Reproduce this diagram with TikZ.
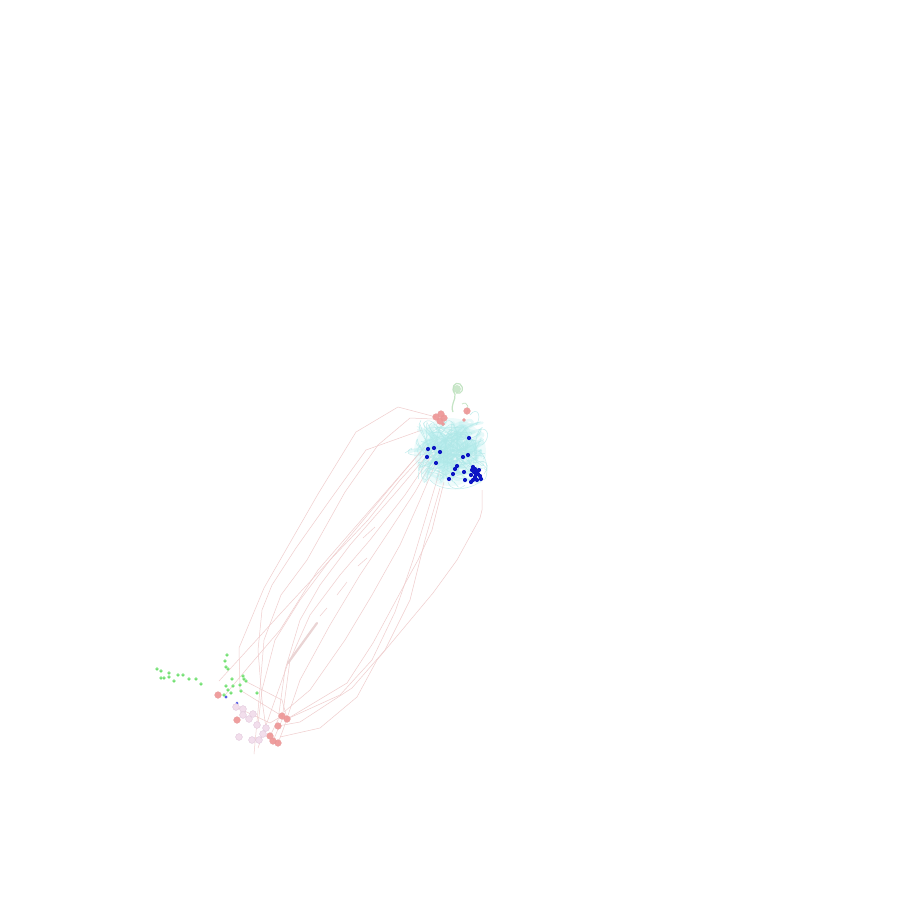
\documentclass[tikz,border=0pt]{standalone}
\definecolor{pinkc}{RGB}{240,205,205}
\definecolor{thickc}{RGB}{234,212,212}
\definecolor{cyanc}{RGB}{175,232,232}
\definecolor{cyanw}{RGB}{185,238,238}
\definecolor{cyanb}{RGB}{165,234,238}
\definecolor{redf}{RGB}{238,148,148}
\definecolor{redd}{RGB}{230,160,160}
\definecolor{palef}{RGB}{242,222,236}
\definecolor{paled}{RGB}{225,200,220}
\definecolor{greenf}{RGB}{95,218,95}
\definecolor{greend}{RGB}{175,240,175}
\definecolor{bluec}{RGB}{12,22,195}
\definecolor{greenr}{RGB}{190,226,190}
\definecolor{lblue}{RGB}{85,95,230}
\begin{document}
\begin{tikzpicture}[x=1pt,y=-1pt,
  pinkln/.style={draw=pinkc,line width=0.5pt,line join=round},
  thickln/.style={draw=thickc,line width=2.2pt,line cap=round},
  cyanrib/.style={draw=cyanc,line width=0.5pt,opacity=0.75},
  cyanwide/.style={draw=cyanw,line width=2.6pt,opacity=0.35,line cap=round},
  cyanball/.style={fill=cyanb,opacity=0.4},
  redball/.style={fill=redf,draw=redd,line width=0.3pt,opacity=0.9},
  paleball/.style={fill=palef,draw=paled,line width=0.4pt},
  greendot/.style={fill=greenf,draw=greend,line width=0.5pt},
  bluedot/.style={fill=bluec},
  greenrib/.style={draw=greenr,line width=1.2pt,opacity=0.9}
]
\useasboundingbox[fill=white] (0,0) rectangle (900,900);

% ---------- pink connecting lines ----------
\draw[pinkln] (436,417) -- (398,407) -- (356,432) -- (318,494) -- (264,588) -- (239,648) -- (240,690) -- (282,716);
\draw[pinkln] (433,419) -- (410,418) -- (378,445) -- (345,492) -- (307,560) -- (281,595) -- (264,640) -- (259,700) -- (254,754);
\draw[pinkln] (428,450) -- (400,480) -- (368,520) -- (330,560) -- (281,613) -- (241,657) -- (219,681);
\draw[pinkln] (430,452) -- (398,490) -- (350,545) -- (320,585) -- (300,620) -- (285,670) -- (278,720) -- (270,736);
\draw[pinkln] (432,455) -- (405,495) -- (370,540) -- (340,575) -- (310,615) -- (290,660) -- (282,720) -- (273,741);
\draw[pinkln] (434,458) -- (415,492) -- (390,530) -- (360,575) -- (330,625) -- (300,680) -- (283,730) -- (278,743);
\draw[pinkln] (437,460) -- (420,500) -- (400,545) -- (372,595) -- (345,640) -- (310,690) -- (284,712);
\draw[pinkln] (440,470) -- (425,520) -- (413,560) -- (395,612) -- (372,660) -- (340,695) -- (287,719);
\draw[pinkln] (444,482) -- (432,530) -- (418,560) -- (407,580) -- (373,643) -- (347,683) -- (287,719);
\draw[pinkln] (440,488) -- (425,540) -- (410,600) -- (385,650) -- (352,688) -- (300,722) -- (278,726);
\draw[pinkln] (482,490) -- (482,510) -- (480,518) -- (457,560) -- (433,593) -- (377,660) -- (357,697) -- (320,728) -- (280,737);
\draw[pinkln] (426,445) -- (380,500) -- (330,560) -- (300,600) -- (275,640) -- (262,690) -- (258,725);
\draw[pinkln] (425,447) -- (370,510) -- (318,570) -- (280,630) -- (250,665) -- (225,695);
\draw[pinkln] (422,430) -- (366,450) -- (330,500) -- (296,548) -- (272,585) -- (262,610) -- (258,650) -- (262,700) -- (266,728);
\draw[pinkln] (236,707) -- (270,723) -- (282,716);
\draw[pinkln] (243,680) -- (282,700) -- (287,718);
% short fragments
\draw[pinkln] (367,558) -- (358,566);
\draw[pinkln] (347,582) -- (337,595);
\draw[pinkln] (327,608) -- (320,616);
\draw[pinkln] (375,527) -- (363,538);
% thick pale segment
\draw[thickln] (317,623) -- (288,663);
\draw[pinkln] (288,663) -- (258,748);

% ---------- cyan protein blob ----------
\begin{scope}
\fill[cyanb,opacity=0.18] (450,452) ellipse (36 and 34);
\fill[cyanball] (452,445) circle (12);
\fill[cyanball] (438,440) circle (9);
\fill[cyanball] (462,432) circle (8);
\fill[cyanball] (470,446) circle (7);
\fill[cyanball] (446,464) circle (9);
\fill[cyanball] (428,445) circle (6);
\pgfmathsetseed{11}
\foreach \i in {1,...,40}{
  \pgfmathsetmacro\ax{451+33*rand}
  \pgfmathsetmacro\ay{452+31*rand}
  \pgfmathsetmacro\bx{\ax+16*rand}
  \pgfmathsetmacro\by{\ay+16*rand}
  \pgfmathsetmacro\cx{451+33*rand}
  \pgfmathsetmacro\cy{452+31*rand}
  \pgfmathsetmacro\dx{451+33*rand}
  \pgfmathsetmacro\dy{452+31*rand}
  \draw[cyanwide] (\ax,\ay) .. controls (\bx,\by) and (\cx,\cy) .. (\dx,\dy);
}
\foreach \i in {1,...,80}{
  \pgfmathsetmacro\ax{451+35*rand}
  \pgfmathsetmacro\ay{452+32*rand}
  \pgfmathsetmacro\bx{\ax+18*rand}
  \pgfmathsetmacro\by{\ay+18*rand}
  \pgfmathsetmacro\cx{451+35*rand}
  \pgfmathsetmacro\cy{452+32*rand}
  \pgfmathsetmacro\dx{451+35*rand}
  \pgfmathsetmacro\dy{452+32*rand}
  \draw[cyanrib] (\ax,\ay) .. controls (\bx,\by) and (\cx,\cy) .. (\dx,\dy);
}
% outer loops
\draw[cyanrib] (430,480) .. controls (440,492) and (470,492) .. (482,480);
\draw[cyanrib] (420,455) .. controls (408,456) and (404,452) .. (412,448);
\draw[cyanrib] (405,453) .. controls (415,445) and (425,450) .. (430,455);
\draw[cyanrib] (478,430) .. controls (490,425) and (490,440) .. (482,445);
\draw[cyanrib] (470,415) .. controls (478,405) and (482,418) .. (476,425);
\draw[cyanrib] (448,482) .. controls (450,490) and (460,490) .. (465,485);
\draw[cyanrib] (425,428) .. controls (420,420) and (432,418) .. (435,425);
\draw[cyanrib] (480,462) .. controls (490,460) and (488,470) .. (484,474);
\draw[cyanwide] (426,470) .. controls (432,478) and (445,480) .. (452,476);
\draw[cyanwide] (410,452) .. controls (418,448) and (425,452) .. (428,458);
\end{scope}

% green helix on top
\draw[greenrib] (453,412) .. controls (450,405) and (456,400) .. (455,394);
\draw[greenrib] (455,394) .. controls (450,388) and (455,381) .. (460,384) .. controls (465,388) and (462,395) .. (456,393);
\fill[greenr,opacity=0.8] (457,389) circle (4);
\draw[greenrib,line width=0.7pt] (462,404) .. controls (468,400) and (470,410) .. (466,414);

% red spheres at blob top
\foreach \p in {(436,417),(441,414),(444,418),(440,421),(467,411)}{\fill[redball] \p circle (3.4);}
\fill[redball] (443,424) circle (1.8);
\fill[redball] (464,420) circle (1.6);

% blue dots
\foreach \p in {(469,438),(428,449),(434,448),(440,452),(427,457),(436,463),(463,457),(468,455),(457,466),(455,469),(453,474),(449,479),(464,472),(465,480),
 (473,467),(475,469),(477,471),(474,472),(479,470),(471,475),(476,474),(480,476),(473,480),(477,480),(481,479),(471,482),(475,477),(472,470),(478,474)}{\fill[bluedot] \p circle (2.1);}

% ---------- bottom-left ligand cluster ----------
\foreach \p in {(157,669),(161,671),(169,673),(161,678),(164,678),(169,677),(174,681),(178,675),(183,675),(189,679),(196,679),(201,684),
 (227,655),(225,661),(226,667),(228,669),(232,679),(243,676),(244,679),(246,681),(226,686),(233,686),(240,685),(228,690),(231,693),(241,691),(224,695),(257,693)}{\fill[greendot] \p circle (1.6);}
\fill[lblue] (226,697) circle (1.7);
\fill[lblue] (237,703) circle (1.5);

\foreach \p in {(236,707),(243,709),(243,715),(249,719),(253,714),(257,725),(266,728),(263,734),(259,740),(252,740),(239,737)}{\fill[paleball] \p circle (3.4);}
\foreach \p in {(218,695),(237,720),(282,716),(287,719),(278,726),(270,736),(273,741),(278,743)}{\fill[redball] \p circle (3.4);}
\end{tikzpicture}
\end{document}
